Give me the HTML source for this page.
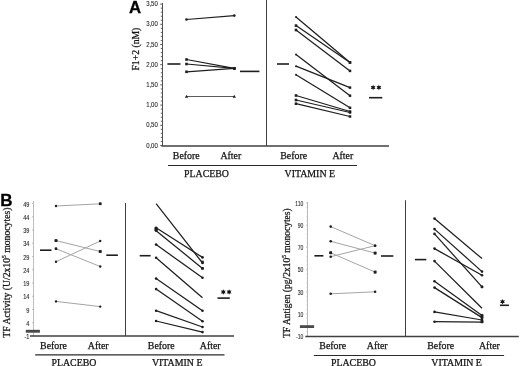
<!DOCTYPE html>
<html><head><meta charset="utf-8"><style>
html,body{margin:0;padding:0;background:#fff;width:520px;height:366px;overflow:hidden;}
svg{display:block;}
</style></head><body>
<svg width="520" height="366" viewBox="0 0 520 366" style="will-change:transform">
<rect width="520" height="366" fill="#fff"/>
<text x="128.9" y="13.1" font-family='"Liberation Sans", sans-serif' font-size="16.8" font-weight="bold" text-anchor="start" fill="#000" stroke="#000" stroke-width="0.3">A</text>
<line x1="162.5" y1="3.0" x2="162.5" y2="146" stroke="#505050" stroke-width="1.0"/>
<line x1="160.2" y1="145.5" x2="162.5" y2="145.5" stroke="#505050" stroke-width="0.9"/>
<line x1="160.8" y1="141.46" x2="162.5" y2="141.46" stroke="#505050" stroke-width="0.9"/>
<line x1="160.8" y1="137.42" x2="162.5" y2="137.42" stroke="#505050" stroke-width="0.9"/>
<line x1="160.8" y1="133.38" x2="162.5" y2="133.38" stroke="#505050" stroke-width="0.9"/>
<line x1="160.8" y1="129.34" x2="162.5" y2="129.34" stroke="#505050" stroke-width="0.9"/>
<line x1="160.2" y1="125.3" x2="162.5" y2="125.3" stroke="#505050" stroke-width="0.9"/>
<line x1="160.8" y1="121.26" x2="162.5" y2="121.26" stroke="#505050" stroke-width="0.9"/>
<line x1="160.8" y1="117.22" x2="162.5" y2="117.22" stroke="#505050" stroke-width="0.9"/>
<line x1="160.8" y1="113.18" x2="162.5" y2="113.18" stroke="#505050" stroke-width="0.9"/>
<line x1="160.8" y1="109.14" x2="162.5" y2="109.14" stroke="#505050" stroke-width="0.9"/>
<line x1="160.2" y1="105.1" x2="162.5" y2="105.1" stroke="#505050" stroke-width="0.9"/>
<line x1="160.8" y1="101.06" x2="162.5" y2="101.06" stroke="#505050" stroke-width="0.9"/>
<line x1="160.8" y1="97.02" x2="162.5" y2="97.02" stroke="#505050" stroke-width="0.9"/>
<line x1="160.8" y1="92.98" x2="162.5" y2="92.98" stroke="#505050" stroke-width="0.9"/>
<line x1="160.8" y1="88.94" x2="162.5" y2="88.94" stroke="#505050" stroke-width="0.9"/>
<line x1="160.2" y1="84.9" x2="162.5" y2="84.9" stroke="#505050" stroke-width="0.9"/>
<line x1="160.8" y1="80.86" x2="162.5" y2="80.86" stroke="#505050" stroke-width="0.9"/>
<line x1="160.8" y1="76.82" x2="162.5" y2="76.82" stroke="#505050" stroke-width="0.9"/>
<line x1="160.8" y1="72.78" x2="162.5" y2="72.78" stroke="#505050" stroke-width="0.9"/>
<line x1="160.8" y1="68.74" x2="162.5" y2="68.74" stroke="#505050" stroke-width="0.9"/>
<line x1="160.2" y1="64.7" x2="162.5" y2="64.7" stroke="#505050" stroke-width="0.9"/>
<line x1="160.8" y1="60.66" x2="162.5" y2="60.66" stroke="#505050" stroke-width="0.9"/>
<line x1="160.8" y1="56.62" x2="162.5" y2="56.62" stroke="#505050" stroke-width="0.9"/>
<line x1="160.8" y1="52.58" x2="162.5" y2="52.58" stroke="#505050" stroke-width="0.9"/>
<line x1="160.8" y1="48.54" x2="162.5" y2="48.54" stroke="#505050" stroke-width="0.9"/>
<line x1="160.2" y1="44.5" x2="162.5" y2="44.5" stroke="#505050" stroke-width="0.9"/>
<line x1="160.8" y1="40.46" x2="162.5" y2="40.46" stroke="#505050" stroke-width="0.9"/>
<line x1="160.8" y1="36.42" x2="162.5" y2="36.42" stroke="#505050" stroke-width="0.9"/>
<line x1="160.8" y1="32.38" x2="162.5" y2="32.38" stroke="#505050" stroke-width="0.9"/>
<line x1="160.8" y1="28.34" x2="162.5" y2="28.34" stroke="#505050" stroke-width="0.9"/>
<line x1="160.2" y1="24.3" x2="162.5" y2="24.3" stroke="#505050" stroke-width="0.9"/>
<line x1="160.8" y1="20.26" x2="162.5" y2="20.26" stroke="#505050" stroke-width="0.9"/>
<line x1="160.8" y1="16.22" x2="162.5" y2="16.22" stroke="#505050" stroke-width="0.9"/>
<line x1="160.8" y1="12.18" x2="162.5" y2="12.18" stroke="#505050" stroke-width="0.9"/>
<line x1="160.8" y1="8.14" x2="162.5" y2="8.14" stroke="#505050" stroke-width="0.9"/>
<line x1="160.2" y1="4.1" x2="162.5" y2="4.1" stroke="#505050" stroke-width="0.9"/>
<text transform="translate(157.8,147.53) scale(0.78,1)" font-family='"Liberation Sans", sans-serif' font-size="7.7" font-weight="normal" text-anchor="end" fill="#2a2a2a" stroke="#2a2a2a" stroke-width="0.12">0,00</text>
<text transform="translate(157.8,127.33) scale(0.78,1)" font-family='"Liberation Sans", sans-serif' font-size="7.7" font-weight="normal" text-anchor="end" fill="#2a2a2a" stroke="#2a2a2a" stroke-width="0.12">0,50</text>
<text transform="translate(157.8,107.13) scale(0.78,1)" font-family='"Liberation Sans", sans-serif' font-size="7.7" font-weight="normal" text-anchor="end" fill="#2a2a2a" stroke="#2a2a2a" stroke-width="0.12">1,00</text>
<text transform="translate(157.8,86.93) scale(0.78,1)" font-family='"Liberation Sans", sans-serif' font-size="7.7" font-weight="normal" text-anchor="end" fill="#2a2a2a" stroke="#2a2a2a" stroke-width="0.12">1,50</text>
<text transform="translate(157.8,66.73) scale(0.78,1)" font-family='"Liberation Sans", sans-serif' font-size="7.7" font-weight="normal" text-anchor="end" fill="#2a2a2a" stroke="#2a2a2a" stroke-width="0.12">2,00</text>
<text transform="translate(157.8,46.53) scale(0.78,1)" font-family='"Liberation Sans", sans-serif' font-size="7.7" font-weight="normal" text-anchor="end" fill="#2a2a2a" stroke="#2a2a2a" stroke-width="0.12">2,50</text>
<text transform="translate(157.8,26.33) scale(0.78,1)" font-family='"Liberation Sans", sans-serif' font-size="7.7" font-weight="normal" text-anchor="end" fill="#2a2a2a" stroke="#2a2a2a" stroke-width="0.12">3,00</text>
<text transform="translate(157.8,6.13) scale(0.78,1)" font-family='"Liberation Sans", sans-serif' font-size="7.7" font-weight="normal" text-anchor="end" fill="#2a2a2a" stroke="#2a2a2a" stroke-width="0.12">3,50</text>
<line x1="161.5" y1="146" x2="389" y2="146" stroke="#404040" stroke-width="1.7"/>
<line x1="266.5" y1="0" x2="266.5" y2="146" stroke="#404040" stroke-width="1.0"/>
<line x1="186.5" y1="19.5" x2="234.3" y2="15.6" stroke="#1e1e1e" stroke-width="1.25"/>
<circle cx="186.5" cy="19.5" r="1.3" fill="#1e1e1e"/>
<circle cx="234.3" cy="15.6" r="1.3" fill="#1e1e1e"/>
<line x1="186.5" y1="59.5" x2="234.3" y2="68.4" stroke="#1e1e1e" stroke-width="1.25"/>
<rect x="185.20" y="58.20" width="2.6" height="2.6" fill="#1e1e1e"/>
<circle cx="234.3" cy="68.4" r="1.3" fill="#1e1e1e"/>
<line x1="186.5" y1="64.0" x2="234.3" y2="68.4" stroke="#1e1e1e" stroke-width="1.25"/>
<rect x="185.20" y="62.70" width="2.6" height="2.6" fill="#1e1e1e"/>
<circle cx="234.3" cy="68.4" r="1.3" fill="#1e1e1e"/>
<line x1="186.5" y1="71.8" x2="234.3" y2="68.4" stroke="#1e1e1e" stroke-width="1.25"/>
<rect x="185.20" y="70.50" width="2.6" height="2.6" fill="#1e1e1e"/>
<circle cx="234.3" cy="68.4" r="1.3" fill="#1e1e1e"/>
<rect x="232.90" y="67.00" width="2.8" height="2.8" fill="#1e1e1e"/>
<line x1="186.5" y1="96.5" x2="234.3" y2="96.5" stroke="#5a5a5a" stroke-width="1.2"/>
<polygon points="184.90,97.74 188.10,97.74 186.50,94.86" fill="#1e1e1e"/>
<polygon points="232.70,97.74 235.90,97.74 234.30,94.86" fill="#1e1e1e"/>
<line x1="167.4" y1="64.0" x2="180.5" y2="64.0" stroke="#1e1e1e" stroke-width="1.6"/>
<line x1="240" y1="71.4" x2="259.4" y2="71.4" stroke="#1e1e1e" stroke-width="1.6"/>
<line x1="296" y1="16.9" x2="350" y2="62.5" stroke="#1e1e1e" stroke-width="1.25"/>
<circle cx="296" cy="16.9" r="1.0" fill="#1e1e1e"/>
<rect x="348.75" y="61.25" width="2.5" height="2.5" fill="#1e1e1e"/>
<line x1="296" y1="25.6" x2="350" y2="62.5" stroke="#1e1e1e" stroke-width="1.25"/>
<rect x="294.70" y="24.30" width="2.6" height="2.6" fill="#1e1e1e"/>
<rect x="348.75" y="61.25" width="2.5" height="2.5" fill="#1e1e1e"/>
<line x1="296" y1="30.0" x2="350" y2="70.9" stroke="#1e1e1e" stroke-width="1.25"/>
<rect x="294.70" y="28.70" width="2.6" height="2.6" fill="#1e1e1e"/>
<rect x="348.75" y="69.65" width="2.5" height="2.5" fill="#1e1e1e"/>
<line x1="296" y1="54.4" x2="350" y2="95.7" stroke="#1e1e1e" stroke-width="1.25"/>
<circle cx="296" cy="54.4" r="1.0" fill="#1e1e1e"/>
<rect x="348.75" y="94.45" width="2.5" height="2.5" fill="#1e1e1e"/>
<line x1="296" y1="66.2" x2="350" y2="87.6" stroke="#1e1e1e" stroke-width="1.25"/>
<circle cx="296" cy="66.2" r="1.0" fill="#1e1e1e"/>
<rect x="348.75" y="86.35" width="2.5" height="2.5" fill="#1e1e1e"/>
<line x1="296" y1="74.8" x2="350" y2="107.8" stroke="#1e1e1e" stroke-width="1.25"/>
<circle cx="296" cy="74.8" r="1.0" fill="#1e1e1e"/>
<rect x="348.75" y="106.55" width="2.5" height="2.5" fill="#1e1e1e"/>
<line x1="296" y1="95.5" x2="350" y2="111.5" stroke="#1e1e1e" stroke-width="1.25"/>
<rect x="294.70" y="94.20" width="2.6" height="2.6" fill="#1e1e1e"/>
<rect x="348.75" y="110.25" width="2.5" height="2.5" fill="#1e1e1e"/>
<line x1="296" y1="100.0" x2="350" y2="112.5" stroke="#1e1e1e" stroke-width="1.25"/>
<rect x="294.70" y="98.70" width="2.6" height="2.6" fill="#1e1e1e"/>
<rect x="348.75" y="111.25" width="2.5" height="2.5" fill="#1e1e1e"/>
<line x1="296" y1="103.7" x2="350" y2="116.5" stroke="#1e1e1e" stroke-width="1.25"/>
<rect x="294.70" y="102.40" width="2.6" height="2.6" fill="#1e1e1e"/>
<rect x="348.75" y="115.25" width="2.5" height="2.5" fill="#1e1e1e"/>
<line x1="277" y1="64" x2="289" y2="64" stroke="#1e1e1e" stroke-width="1.6"/>
<polygon points="373.10,84.70 372.38,86.24 370.68,86.10 371.65,87.50 370.68,88.90 372.38,88.76 373.10,90.30 373.83,88.76 375.52,88.90 374.55,87.50 375.52,86.10 373.83,86.24" fill="#111"/>
<polygon points="378.90,84.70 378.17,86.24 376.48,86.10 377.45,87.50 376.48,88.90 378.17,88.76 378.90,90.30 379.62,88.76 381.32,88.90 380.35,87.50 381.32,86.10 379.62,86.24" fill="#111"/>
<line x1="369" y1="97.7" x2="382.3" y2="97.7" stroke="#1e1e1e" stroke-width="1.6"/>
<text x="186.3" y="158.8" font-family='"Liberation Serif", serif' font-size="9.9" font-weight="normal" text-anchor="middle" fill="#151515" stroke="#151515" stroke-width="0.25">Before</text>
<text x="230.8" y="158.8" font-family='"Liberation Serif", serif' font-size="9.9" font-weight="normal" text-anchor="middle" fill="#151515" stroke="#151515" stroke-width="0.25">After</text>
<text x="293.7" y="158.8" font-family='"Liberation Serif", serif' font-size="9.9" font-weight="normal" text-anchor="middle" fill="#151515" stroke="#151515" stroke-width="0.25">Before</text>
<text x="342.8" y="158.8" font-family='"Liberation Serif", serif' font-size="9.9" font-weight="normal" text-anchor="middle" fill="#151515" stroke="#151515" stroke-width="0.25">After</text>
<line x1="168" y1="165.5" x2="357" y2="165.5" stroke="#2a2a2a" stroke-width="1.2"/>
<text x="206.5" y="176.6" font-family='"Liberation Serif", serif' font-size="9.9" font-weight="normal" text-anchor="middle" fill="#151515" stroke="#151515" stroke-width="0.25">PLACEBO</text>
<text x="309.8" y="176.6" font-family='"Liberation Serif", serif' font-size="9.9" font-weight="normal" text-anchor="middle" fill="#151515" stroke="#151515" stroke-width="0.25">VITAMIN E</text>
<text transform="translate(138.6,49.1) rotate(-90)" font-family='"Liberation Serif", serif' font-size="9.7" text-anchor="middle" fill="#151515" stroke="#151515" stroke-width="0.25">F1+2 (nM)</text>
<text x="0.3" y="206.4" font-family='"Liberation Sans", sans-serif' font-size="17" font-weight="bold" text-anchor="start" fill="#000" stroke="#000" stroke-width="0.3">B</text>
<line x1="33.5" y1="201" x2="33.5" y2="336" stroke="#b4b4b4" stroke-width="0.9"/>
<line x1="32.0" y1="336.0" x2="33.5" y2="336.0" stroke="#b4b4b4" stroke-width="0.8"/>
<text transform="translate(29.4,339.13) scale(0.73,1)" font-family='"Liberation Sans", sans-serif' font-size="7.7" font-weight="normal" text-anchor="end" fill="#2a2a2a" stroke="#2a2a2a" stroke-width="0.12">-1</text>
<line x1="32.0" y1="322.75" x2="33.5" y2="322.75" stroke="#b4b4b4" stroke-width="0.8"/>
<text transform="translate(29.4,325.88) scale(0.73,1)" font-family='"Liberation Sans", sans-serif' font-size="7.7" font-weight="normal" text-anchor="end" fill="#2a2a2a" stroke="#2a2a2a" stroke-width="0.12">4</text>
<line x1="32.0" y1="309.5" x2="33.5" y2="309.5" stroke="#b4b4b4" stroke-width="0.8"/>
<text transform="translate(29.4,312.63) scale(0.73,1)" font-family='"Liberation Sans", sans-serif' font-size="7.7" font-weight="normal" text-anchor="end" fill="#2a2a2a" stroke="#2a2a2a" stroke-width="0.12">9</text>
<line x1="32.0" y1="296.25" x2="33.5" y2="296.25" stroke="#b4b4b4" stroke-width="0.8"/>
<text transform="translate(29.4,299.38) scale(0.73,1)" font-family='"Liberation Sans", sans-serif' font-size="7.7" font-weight="normal" text-anchor="end" fill="#2a2a2a" stroke="#2a2a2a" stroke-width="0.12">14</text>
<line x1="32.0" y1="283.0" x2="33.5" y2="283.0" stroke="#b4b4b4" stroke-width="0.8"/>
<text transform="translate(29.4,286.13) scale(0.73,1)" font-family='"Liberation Sans", sans-serif' font-size="7.7" font-weight="normal" text-anchor="end" fill="#2a2a2a" stroke="#2a2a2a" stroke-width="0.12">19</text>
<line x1="32.0" y1="269.75" x2="33.5" y2="269.75" stroke="#b4b4b4" stroke-width="0.8"/>
<text transform="translate(29.4,272.88) scale(0.73,1)" font-family='"Liberation Sans", sans-serif' font-size="7.7" font-weight="normal" text-anchor="end" fill="#2a2a2a" stroke="#2a2a2a" stroke-width="0.12">24</text>
<line x1="32.0" y1="256.5" x2="33.5" y2="256.5" stroke="#b4b4b4" stroke-width="0.8"/>
<text transform="translate(29.4,259.63) scale(0.73,1)" font-family='"Liberation Sans", sans-serif' font-size="7.7" font-weight="normal" text-anchor="end" fill="#2a2a2a" stroke="#2a2a2a" stroke-width="0.12">29</text>
<line x1="32.0" y1="243.25" x2="33.5" y2="243.25" stroke="#b4b4b4" stroke-width="0.8"/>
<text transform="translate(29.4,246.38) scale(0.73,1)" font-family='"Liberation Sans", sans-serif' font-size="7.7" font-weight="normal" text-anchor="end" fill="#2a2a2a" stroke="#2a2a2a" stroke-width="0.12">34</text>
<line x1="32.0" y1="230.0" x2="33.5" y2="230.0" stroke="#b4b4b4" stroke-width="0.8"/>
<text transform="translate(29.4,233.13) scale(0.73,1)" font-family='"Liberation Sans", sans-serif' font-size="7.7" font-weight="normal" text-anchor="end" fill="#2a2a2a" stroke="#2a2a2a" stroke-width="0.12">39</text>
<line x1="32.0" y1="216.75" x2="33.5" y2="216.75" stroke="#b4b4b4" stroke-width="0.8"/>
<text transform="translate(29.4,219.88) scale(0.73,1)" font-family='"Liberation Sans", sans-serif' font-size="7.7" font-weight="normal" text-anchor="end" fill="#2a2a2a" stroke="#2a2a2a" stroke-width="0.12">44</text>
<line x1="32.0" y1="203.5" x2="33.5" y2="203.5" stroke="#b4b4b4" stroke-width="0.8"/>
<text transform="translate(29.4,206.63) scale(0.73,1)" font-family='"Liberation Sans", sans-serif' font-size="7.7" font-weight="normal" text-anchor="end" fill="#2a2a2a" stroke="#2a2a2a" stroke-width="0.12">49</text>
<rect x="25.8" y="329.8" width="14.1" height="2.9" fill="#4a4a4a"/>
<line x1="30" y1="336.1" x2="234" y2="336.1" stroke="#404040" stroke-width="1.5"/>
<line x1="125.5" y1="203" x2="125.5" y2="336" stroke="#404040" stroke-width="1.0"/>
<line x1="56" y1="206" x2="100.2" y2="203.8" stroke="#a4a4a4" stroke-width="1.0"/>
<circle cx="56" cy="206" r="1.2" fill="#1e1e1e"/>
<circle cx="100.2" cy="203.8" r="1.2" fill="#1e1e1e"/>
<line x1="56" y1="240.6" x2="100.2" y2="251.5" stroke="#a4a4a4" stroke-width="1.0"/>
<circle cx="56" cy="240.6" r="1.2" fill="#1e1e1e"/>
<circle cx="100.2" cy="251.5" r="1.2" fill="#1e1e1e"/>
<line x1="56" y1="248.7" x2="100.2" y2="266.5" stroke="#a4a4a4" stroke-width="1.0"/>
<circle cx="56" cy="248.7" r="1.2" fill="#1e1e1e"/>
<circle cx="100.2" cy="266.5" r="1.2" fill="#1e1e1e"/>
<line x1="56" y1="261.7" x2="100.2" y2="241" stroke="#a4a4a4" stroke-width="1.0"/>
<circle cx="56" cy="261.7" r="1.2" fill="#1e1e1e"/>
<circle cx="100.2" cy="241" r="1.2" fill="#1e1e1e"/>
<line x1="56" y1="301.4" x2="100.2" y2="306.6" stroke="#a4a4a4" stroke-width="1.0"/>
<circle cx="56" cy="301.4" r="1.2" fill="#1e1e1e"/>
<circle cx="100.2" cy="306.6" r="1.2" fill="#1e1e1e"/>
<rect x="98.90" y="202.50" width="2.6" height="2.6" fill="#1e1e1e"/>
<rect x="54.60" y="239.20" width="2.8" height="2.8" fill="#1e1e1e"/>
<rect x="54.80" y="247.50" width="2.4" height="2.4" fill="#1e1e1e"/>
<rect x="98.80" y="250.10" width="2.8" height="2.8" fill="#1e1e1e"/>
<line x1="40" y1="250.2" x2="51.5" y2="250.2" stroke="#1e1e1e" stroke-width="1.6"/>
<line x1="106.3" y1="255.2" x2="117.9" y2="255.2" stroke="#1e1e1e" stroke-width="1.6"/>
<line x1="156.1" y1="203.6" x2="202.5" y2="263" stroke="#1e1e1e" stroke-width="1.25"/>
<circle cx="202.5" cy="263" r="1.3" fill="#1e1e1e"/>
<line x1="156.1" y1="227.7" x2="202.5" y2="257.4" stroke="#1e1e1e" stroke-width="1.25"/>
<circle cx="156.1" cy="227.7" r="1.3" fill="#1e1e1e"/>
<circle cx="202.5" cy="257.4" r="1.3" fill="#1e1e1e"/>
<line x1="156.1" y1="230.7" x2="202.5" y2="268.4" stroke="#1e1e1e" stroke-width="1.25"/>
<circle cx="156.1" cy="230.7" r="1.3" fill="#1e1e1e"/>
<circle cx="202.5" cy="268.4" r="1.3" fill="#1e1e1e"/>
<line x1="156.1" y1="244.6" x2="202.5" y2="277.7" stroke="#1e1e1e" stroke-width="1.25"/>
<circle cx="156.1" cy="244.6" r="1.3" fill="#1e1e1e"/>
<circle cx="202.5" cy="277.7" r="1.3" fill="#1e1e1e"/>
<line x1="156.1" y1="257.7" x2="202.5" y2="297.7" stroke="#1e1e1e" stroke-width="1.25"/>
<circle cx="156.1" cy="257.7" r="1.3" fill="#1e1e1e"/>
<line x1="156.1" y1="278.6" x2="202.5" y2="310.7" stroke="#1e1e1e" stroke-width="1.25"/>
<circle cx="156.1" cy="278.6" r="1.3" fill="#1e1e1e"/>
<circle cx="202.5" cy="310.7" r="1.3" fill="#1e1e1e"/>
<line x1="156.1" y1="289.1" x2="202.5" y2="321.2" stroke="#1e1e1e" stroke-width="1.25"/>
<circle cx="156.1" cy="289.1" r="1.3" fill="#1e1e1e"/>
<circle cx="202.5" cy="321.2" r="1.3" fill="#1e1e1e"/>
<line x1="156.1" y1="310.7" x2="202.5" y2="327" stroke="#1e1e1e" stroke-width="1.25"/>
<circle cx="156.1" cy="310.7" r="1.3" fill="#1e1e1e"/>
<circle cx="202.5" cy="327" r="1.3" fill="#1e1e1e"/>
<line x1="156.1" y1="321" x2="202.5" y2="332.1" stroke="#1e1e1e" stroke-width="1.25"/>
<circle cx="156.1" cy="321" r="1.3" fill="#1e1e1e"/>
<circle cx="202.5" cy="332.1" r="1.3" fill="#1e1e1e"/>
<rect x="201.20" y="260.70" width="2.6" height="2.6" fill="#1e1e1e"/>
<rect x="201.30" y="267.20" width="2.4" height="2.4" fill="#1e1e1e"/>
<rect x="154.40" y="227.50" width="3.4" height="3.4" fill="#1e1e1e"/>
<line x1="139.7" y1="255.7" x2="150.6" y2="255.7" stroke="#1e1e1e" stroke-width="1.6"/>
<polygon points="223.30,289.20 222.58,290.74 220.88,290.60 221.85,292.00 220.88,293.40 222.58,293.26 223.30,294.80 224.03,293.26 225.72,293.40 224.75,292.00 225.72,290.60 224.03,290.74" fill="#111"/>
<polygon points="229.10,289.20 228.38,290.74 226.68,290.60 227.65,292.00 226.68,293.40 228.38,293.26 229.10,294.80 229.82,293.26 231.52,293.40 230.55,292.00 231.52,290.60 229.82,290.74" fill="#111"/>
<line x1="217.5" y1="298.1" x2="229.8" y2="298.1" stroke="#1e1e1e" stroke-width="1.6"/>
<text x="53.5" y="348.5" font-family='"Liberation Serif", serif' font-size="9.9" font-weight="normal" text-anchor="middle" fill="#151515" stroke="#151515" stroke-width="0.25">Before</text>
<text x="98.2" y="348.5" font-family='"Liberation Serif", serif' font-size="9.9" font-weight="normal" text-anchor="middle" fill="#151515" stroke="#151515" stroke-width="0.25">After</text>
<text x="161.3" y="348.5" font-family='"Liberation Serif", serif' font-size="9.9" font-weight="normal" text-anchor="middle" fill="#151515" stroke="#151515" stroke-width="0.25">Before</text>
<text x="210.2" y="348.5" font-family='"Liberation Serif", serif' font-size="9.9" font-weight="normal" text-anchor="middle" fill="#151515" stroke="#151515" stroke-width="0.25">After</text>
<line x1="35.2" y1="354.8" x2="224.5" y2="354.8" stroke="#2a2a2a" stroke-width="1.2"/>
<text x="73.9" y="365.6" font-family='"Liberation Serif", serif' font-size="9.9" font-weight="normal" text-anchor="middle" fill="#151515" stroke="#151515" stroke-width="0.25">PLACEBO</text>
<text x="177.2" y="365.6" font-family='"Liberation Serif", serif' font-size="9.9" font-weight="normal" text-anchor="middle" fill="#151515" stroke="#151515" stroke-width="0.25">VITAMIN E</text>
<text transform="translate(10,272.6) rotate(-90)" font-family='"Liberation Serif", serif' font-size="9.7" text-anchor="middle" fill="#151515" stroke="#151515" stroke-width="0.25">TF Activity (U/2x10<tspan font-size="5.6" dy="-3.7">5</tspan><tspan dy="3.7"> monocytes)</tspan></text>
<line x1="307.5" y1="202" x2="307.5" y2="336.2" stroke="#b4b4b4" stroke-width="0.9"/>
<line x1="306.0" y1="336.2" x2="307.5" y2="336.2" stroke="#b4b4b4" stroke-width="0.8"/>
<line x1="306.5" y1="331.76" x2="307.5" y2="331.76" stroke="#b4b4b4" stroke-width="0.8"/>
<line x1="306.5" y1="327.32" x2="307.5" y2="327.32" stroke="#b4b4b4" stroke-width="0.8"/>
<line x1="306.5" y1="322.88" x2="307.5" y2="322.88" stroke="#b4b4b4" stroke-width="0.8"/>
<line x1="306.5" y1="318.44" x2="307.5" y2="318.44" stroke="#b4b4b4" stroke-width="0.8"/>
<line x1="306.0" y1="314.0" x2="307.5" y2="314.0" stroke="#b4b4b4" stroke-width="0.8"/>
<line x1="306.5" y1="309.56" x2="307.5" y2="309.56" stroke="#b4b4b4" stroke-width="0.8"/>
<line x1="306.5" y1="305.12" x2="307.5" y2="305.12" stroke="#b4b4b4" stroke-width="0.8"/>
<line x1="306.5" y1="300.68" x2="307.5" y2="300.68" stroke="#b4b4b4" stroke-width="0.8"/>
<line x1="306.5" y1="296.24" x2="307.5" y2="296.24" stroke="#b4b4b4" stroke-width="0.8"/>
<line x1="306.0" y1="291.8" x2="307.5" y2="291.8" stroke="#b4b4b4" stroke-width="0.8"/>
<line x1="306.5" y1="287.36" x2="307.5" y2="287.36" stroke="#b4b4b4" stroke-width="0.8"/>
<line x1="306.5" y1="282.92" x2="307.5" y2="282.92" stroke="#b4b4b4" stroke-width="0.8"/>
<line x1="306.5" y1="278.48" x2="307.5" y2="278.48" stroke="#b4b4b4" stroke-width="0.8"/>
<line x1="306.5" y1="274.04" x2="307.5" y2="274.04" stroke="#b4b4b4" stroke-width="0.8"/>
<line x1="306.0" y1="269.6" x2="307.5" y2="269.6" stroke="#b4b4b4" stroke-width="0.8"/>
<line x1="306.5" y1="265.16" x2="307.5" y2="265.16" stroke="#b4b4b4" stroke-width="0.8"/>
<line x1="306.5" y1="260.72" x2="307.5" y2="260.72" stroke="#b4b4b4" stroke-width="0.8"/>
<line x1="306.5" y1="256.28" x2="307.5" y2="256.28" stroke="#b4b4b4" stroke-width="0.8"/>
<line x1="306.5" y1="251.84" x2="307.5" y2="251.84" stroke="#b4b4b4" stroke-width="0.8"/>
<line x1="306.0" y1="247.4" x2="307.5" y2="247.4" stroke="#b4b4b4" stroke-width="0.8"/>
<line x1="306.5" y1="242.96" x2="307.5" y2="242.96" stroke="#b4b4b4" stroke-width="0.8"/>
<line x1="306.5" y1="238.52" x2="307.5" y2="238.52" stroke="#b4b4b4" stroke-width="0.8"/>
<line x1="306.5" y1="234.08" x2="307.5" y2="234.08" stroke="#b4b4b4" stroke-width="0.8"/>
<line x1="306.5" y1="229.64" x2="307.5" y2="229.64" stroke="#b4b4b4" stroke-width="0.8"/>
<line x1="306.0" y1="225.2" x2="307.5" y2="225.2" stroke="#b4b4b4" stroke-width="0.8"/>
<line x1="306.5" y1="220.76" x2="307.5" y2="220.76" stroke="#b4b4b4" stroke-width="0.8"/>
<line x1="306.5" y1="216.32" x2="307.5" y2="216.32" stroke="#b4b4b4" stroke-width="0.8"/>
<line x1="306.5" y1="211.88" x2="307.5" y2="211.88" stroke="#b4b4b4" stroke-width="0.8"/>
<line x1="306.5" y1="207.44" x2="307.5" y2="207.44" stroke="#b4b4b4" stroke-width="0.8"/>
<line x1="306.0" y1="203.0" x2="307.5" y2="203.0" stroke="#b4b4b4" stroke-width="0.8"/>
<text transform="translate(303.3,338.93) scale(0.66,1)" font-family='"Liberation Sans", sans-serif' font-size="7.7" font-weight="normal" text-anchor="end" fill="#2a2a2a" stroke="#2a2a2a" stroke-width="0.12">-10</text>
<text transform="translate(303.3,316.73) scale(0.66,1)" font-family='"Liberation Sans", sans-serif' font-size="7.7" font-weight="normal" text-anchor="end" fill="#2a2a2a" stroke="#2a2a2a" stroke-width="0.12">10</text>
<text transform="translate(303.3,294.53) scale(0.66,1)" font-family='"Liberation Sans", sans-serif' font-size="7.7" font-weight="normal" text-anchor="end" fill="#2a2a2a" stroke="#2a2a2a" stroke-width="0.12">30</text>
<text transform="translate(303.3,272.33) scale(0.66,1)" font-family='"Liberation Sans", sans-serif' font-size="7.7" font-weight="normal" text-anchor="end" fill="#2a2a2a" stroke="#2a2a2a" stroke-width="0.12">50</text>
<text transform="translate(303.3,250.13) scale(0.66,1)" font-family='"Liberation Sans", sans-serif' font-size="7.7" font-weight="normal" text-anchor="end" fill="#2a2a2a" stroke="#2a2a2a" stroke-width="0.12">70</text>
<text transform="translate(303.3,227.93) scale(0.66,1)" font-family='"Liberation Sans", sans-serif' font-size="7.7" font-weight="normal" text-anchor="end" fill="#2a2a2a" stroke="#2a2a2a" stroke-width="0.12">90</text>
<text transform="translate(303.3,205.73) scale(0.66,1)" font-family='"Liberation Sans", sans-serif' font-size="7.7" font-weight="normal" text-anchor="end" fill="#2a2a2a" stroke="#2a2a2a" stroke-width="0.12">110</text>
<rect x="299.9" y="325.2" width="14.2" height="2.8" fill="#4a4a4a"/>
<line x1="305.3" y1="336.4" x2="518.8" y2="336.4" stroke="#404040" stroke-width="1.5"/>
<line x1="405.5" y1="200.2" x2="405.5" y2="336.3" stroke="#404040" stroke-width="1.0"/>
<line x1="330.7" y1="226.6" x2="375.1" y2="245.7" stroke="#a4a4a4" stroke-width="1.0"/>
<circle cx="330.7" cy="226.6" r="1.3" fill="#1e1e1e"/>
<circle cx="375.1" cy="245.7" r="1.3" fill="#1e1e1e"/>
<line x1="330.7" y1="241.3" x2="375.1" y2="253.1" stroke="#a4a4a4" stroke-width="1.0"/>
<circle cx="330.7" cy="241.3" r="1.3" fill="#1e1e1e"/>
<circle cx="375.1" cy="253.1" r="1.3" fill="#1e1e1e"/>
<line x1="330.7" y1="256.7" x2="375.1" y2="245.7" stroke="#a4a4a4" stroke-width="1.0"/>
<circle cx="330.7" cy="256.7" r="1.3" fill="#1e1e1e"/>
<circle cx="375.1" cy="245.7" r="1.3" fill="#1e1e1e"/>
<line x1="330.7" y1="252.8" x2="375.1" y2="272.1" stroke="#a4a4a4" stroke-width="1.0"/>
<circle cx="330.7" cy="252.8" r="1.3" fill="#1e1e1e"/>
<circle cx="375.1" cy="272.1" r="1.3" fill="#1e1e1e"/>
<line x1="330.7" y1="293.8" x2="375.1" y2="291.8" stroke="#a4a4a4" stroke-width="1.0"/>
<circle cx="330.7" cy="293.8" r="1.3" fill="#1e1e1e"/>
<circle cx="375.1" cy="291.8" r="1.3" fill="#1e1e1e"/>
<rect x="329.30" y="251.40" width="2.8" height="2.8" fill="#1e1e1e"/>
<rect x="373.70" y="251.70" width="2.8" height="2.8" fill="#1e1e1e"/>
<rect x="373.70" y="270.70" width="2.8" height="2.8" fill="#1e1e1e"/>
<line x1="314.4" y1="255.8" x2="323.4" y2="255.8" stroke="#1e1e1e" stroke-width="1.6"/>
<line x1="381" y1="256" x2="393.3" y2="256" stroke="#1e1e1e" stroke-width="1.6"/>
<line x1="434.5" y1="218.6" x2="482" y2="258.6" stroke="#1e1e1e" stroke-width="1.25"/>
<circle cx="434.5" cy="218.6" r="1.3" fill="#1e1e1e"/>
<line x1="434.5" y1="229.1" x2="482" y2="271.6" stroke="#1e1e1e" stroke-width="1.25"/>
<circle cx="434.5" cy="229.1" r="1.3" fill="#1e1e1e"/>
<circle cx="482" cy="271.6" r="1.3" fill="#1e1e1e"/>
<line x1="434.5" y1="233.9" x2="482" y2="286.9" stroke="#1e1e1e" stroke-width="1.25"/>
<circle cx="434.5" cy="233.9" r="1.3" fill="#1e1e1e"/>
<circle cx="482" cy="286.9" r="1.3" fill="#1e1e1e"/>
<line x1="434.5" y1="248.6" x2="482" y2="275.3" stroke="#1e1e1e" stroke-width="1.25"/>
<circle cx="434.5" cy="248.6" r="1.3" fill="#1e1e1e"/>
<circle cx="482" cy="275.3" r="1.3" fill="#1e1e1e"/>
<line x1="434.5" y1="261.1" x2="482" y2="308.2" stroke="#1e1e1e" stroke-width="1.25"/>
<circle cx="434.5" cy="261.1" r="1.3" fill="#1e1e1e"/>
<line x1="434.5" y1="281.2" x2="482" y2="315.5" stroke="#1e1e1e" stroke-width="1.25"/>
<circle cx="434.5" cy="281.2" r="1.3" fill="#1e1e1e"/>
<circle cx="482" cy="315.5" r="1.3" fill="#1e1e1e"/>
<line x1="434.5" y1="287.6" x2="482" y2="317.6" stroke="#1e1e1e" stroke-width="1.25"/>
<circle cx="434.5" cy="287.6" r="1.3" fill="#1e1e1e"/>
<circle cx="482" cy="317.6" r="1.3" fill="#1e1e1e"/>
<line x1="434.5" y1="311.9" x2="482" y2="320" stroke="#1e1e1e" stroke-width="1.25"/>
<circle cx="434.5" cy="311.9" r="1.3" fill="#1e1e1e"/>
<circle cx="482" cy="320" r="1.3" fill="#1e1e1e"/>
<line x1="434.5" y1="321.7" x2="482" y2="322" stroke="#1e1e1e" stroke-width="1.25"/>
<circle cx="434.5" cy="321.7" r="1.3" fill="#1e1e1e"/>
<circle cx="482" cy="322" r="1.3" fill="#1e1e1e"/>
<rect x="480.80" y="285.70" width="2.4" height="2.4" fill="#1e1e1e"/>
<rect x="480.70" y="314.20" width="2.6" height="2.6" fill="#1e1e1e"/>
<rect x="480.70" y="316.30" width="2.6" height="2.6" fill="#1e1e1e"/>
<rect x="480.60" y="320.30" width="2.8" height="2.8" fill="#1e1e1e"/>
<line x1="414.9" y1="259.6" x2="426.3" y2="259.6" stroke="#1e1e1e" stroke-width="1.6"/>
<polygon points="502.50,298.90 501.77,300.44 500.08,300.30 501.05,301.70 500.08,303.10 501.77,302.96 502.50,304.50 503.23,302.96 504.92,303.10 503.95,301.70 504.92,300.30 503.23,300.44" fill="#111"/>
<line x1="499.9" y1="305.3" x2="508.9" y2="305.3" stroke="#1e1e1e" stroke-width="1.6"/>
<text x="332.8" y="349.3" font-family='"Liberation Serif", serif' font-size="9.9" font-weight="normal" text-anchor="middle" fill="#151515" stroke="#151515" stroke-width="0.25">Before</text>
<text x="377.2" y="349.3" font-family='"Liberation Serif", serif' font-size="9.9" font-weight="normal" text-anchor="middle" fill="#151515" stroke="#151515" stroke-width="0.25">After</text>
<text x="440.7" y="349.3" font-family='"Liberation Serif", serif' font-size="9.9" font-weight="normal" text-anchor="middle" fill="#151515" stroke="#151515" stroke-width="0.25">Before</text>
<text x="489.4" y="349.3" font-family='"Liberation Serif", serif' font-size="9.9" font-weight="normal" text-anchor="middle" fill="#151515" stroke="#151515" stroke-width="0.25">After</text>
<line x1="313.8" y1="355.5" x2="504.1" y2="355.5" stroke="#2a2a2a" stroke-width="1.2"/>
<text x="353.4" y="365.6" font-family='"Liberation Serif", serif' font-size="9.9" font-weight="normal" text-anchor="middle" fill="#151515" stroke="#151515" stroke-width="0.25">PLACEBO</text>
<text x="456.6" y="365.6" font-family='"Liberation Serif", serif' font-size="9.9" font-weight="normal" text-anchor="middle" fill="#151515" stroke="#151515" stroke-width="0.25">VITAMIN E</text>
<text transform="translate(289.8,273.2) rotate(-90)" font-family='"Liberation Serif", serif' font-size="9.5" text-anchor="middle" fill="#151515" stroke="#151515" stroke-width="0.25">TF Antigen (pg/2x10<tspan font-size="5.6" dy="-3.7">5</tspan><tspan dy="3.7"> monocytes)</tspan></text>
</svg>
</body></html>
